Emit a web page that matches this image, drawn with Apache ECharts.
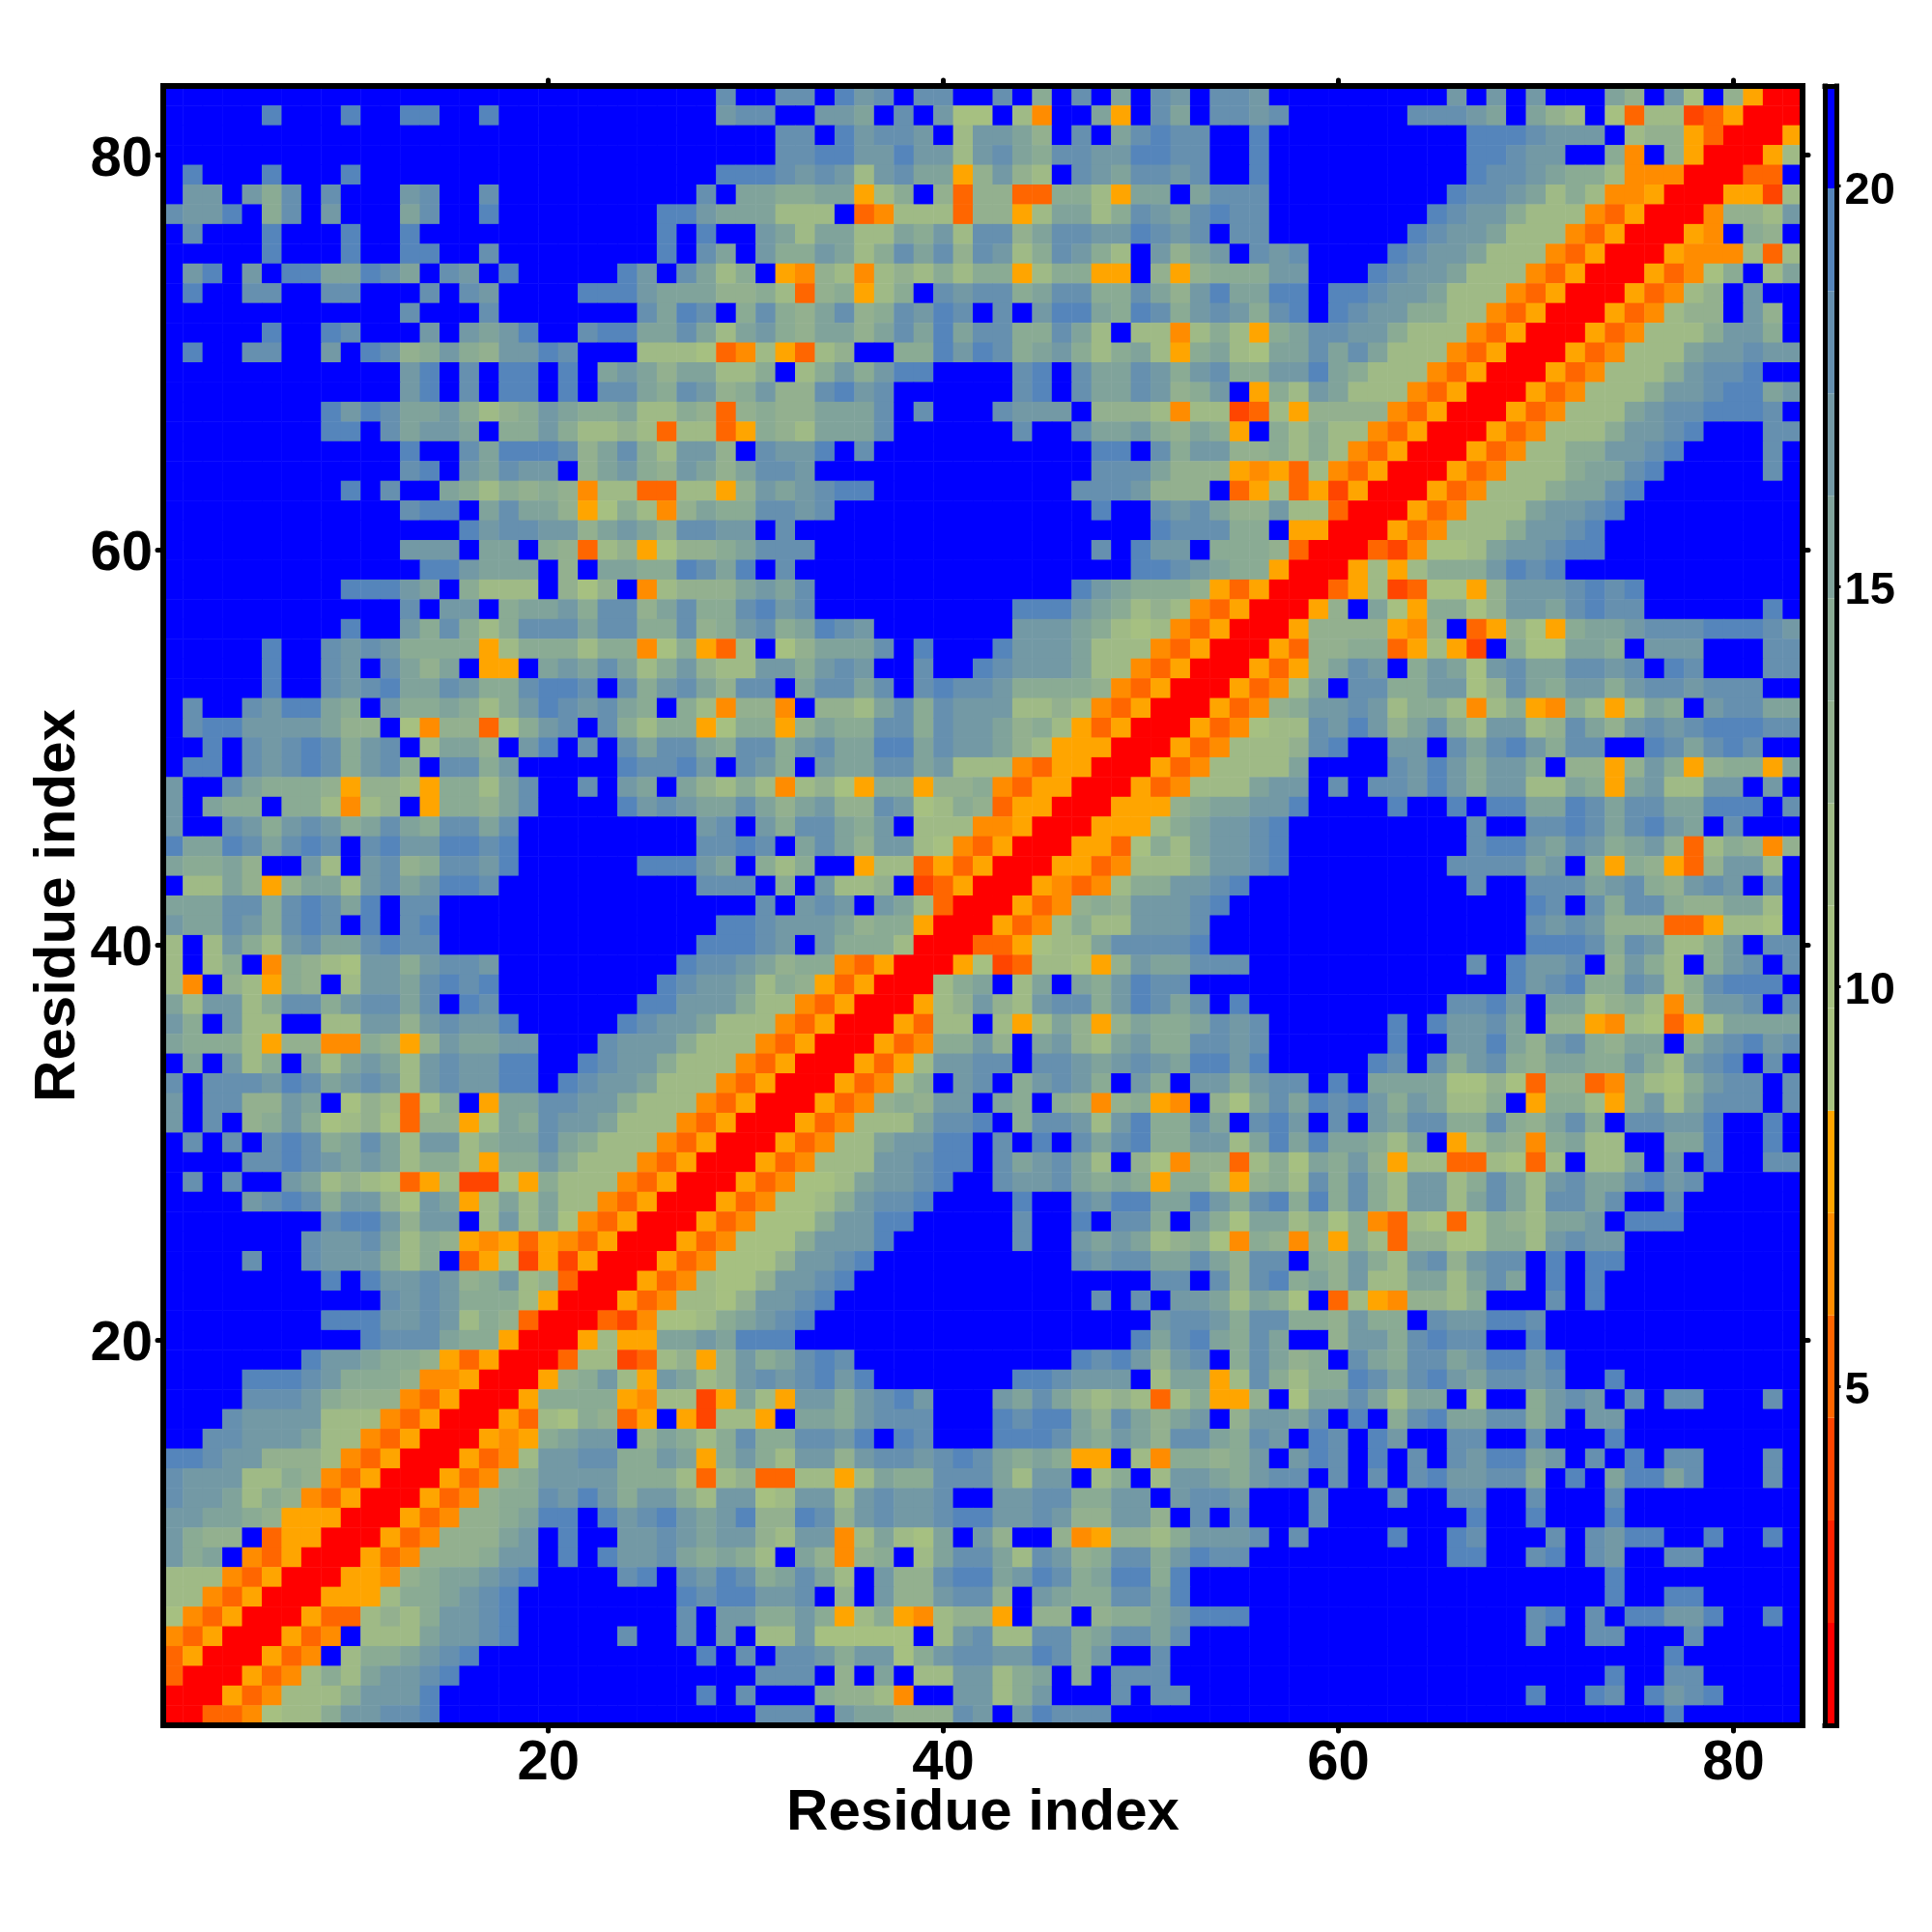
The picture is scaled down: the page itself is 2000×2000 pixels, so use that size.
<!DOCTYPE html>
<html><head><meta charset="utf-8">
<style>html,body{margin:0;padding:0;background:#fff}#c{width:2000px;height:2000px}</style>
<script src="https://cdn.jsdelivr.net/npm/echarts@6/dist/echarts.min.js"></script>
</head><body><div id="c"></div>
<script>
// Distance bins; a hex digit in the rows below is a bin number. {n} = n cells of the last bin.
const binEdges=[0.77,2.05,3.33,4.61,5.89,7.17,8.45,9.73,11.01,12.29,13.57,14.85,16.13,17.41,18.69,19.97,21.25];
const binValues=[1.4,2.7,4,5.2,6.5,7.8,9.1,10.4,11.6,12.9,14.2,15.5,16.8,18,19.3,20.6];
const binColors=['#ff0000','#ff2200','#ff4500','#ff6600','#ff8c00','#ffa500','#a8c280','#a6c081','#9fba86','#93b08f','#8aab94','#80a39b','#7399a5','#6690af','#5585bb','#0000ff'];
const colorbarTicks=[5,10,15,20];
const axisTickEvery=20;
const axisTitle='Residue index';
// rows run from residue 83 down to 1; each band is columns 1-28, 29-56, 57-83
const leftTop=["{28}","{5}e{3}e{2}ee{2}e{11}","{28}","{28}","fe{3}e{3}e{18}","fccfcadfdfffcdffd{10}d","dccefadfcfffbdffe{8}eec","fdfffefffeffe{12}efe","fffffefffeffeeffd{8}efd","fcefcfeebbedbfdcfe{5}ecfdb","feffddffddfffdfdc{4}eeecbbb","{12}d{3}d{7}dbed","fffffeffedfffcfcbceffdeebbdb","feffddffcfed9aca9ccedfff8887","{12}cefdfeefefbcb9bb","{12}cefdfeefefddbadc","{8}ecedbbca89acbaab88a9","{8}eefdbccbfaaca8898388","{12}effdbeeed9bda8cc","{12}defcbdccf9bca9cb","{9}efdffba8a9a94883388","{12}deefbdbb957a849b","{15}ecddcc9bcb9dd","{12}cccfbbfa93895799","{13}eecbbbf9fbbaaed","{9}eeecbfa888f979f4899","{12}dfccfabbcadd9bda","{9}effcada8adddbddaad9"];
const midTop=["dffddfecdfddffdfafdfbfdcfddc","cddffccbfdfc77f84ffb5fdbfddc","fffddfecddcf8ccb9fdfbdeddffe","fffddeeccecc8cdbaddcceeddffe","eeedcdc8cdbb59c98fdcbddcdffe","fbbaabb58af939933aa85bbfbddd","bbb888f3488839958bb8adcbdedd","ffcb8bb88bac8dd9bddccedcdfdd","bfcaacb8adbd9dc8adca8fc9bcfd","8af54984898a8aa58aa55f959aaa","99a839a58afdcddabddaadb9cebb","fada9bd9adcedfdfceebaedacdca","8bca9bb9bdbebddaadb8f8848a85","3485389ffaaecedabca8ab85ab87","88af8acaceeffffdefdbbdcacdaa","9ac99decdffffffdefdbbdc9acf5","39a99bbbdfdfffdcccf999848823","35a98bbbdffffffdffdbbca9ba5f","9fdccefd{11}eefdacc99","9bddc{14}dddb99954","59cbcdee{10}dddc999f35","aaddcd{13}effdcdb99","ccfd{18}edddaa","abddd{14}dfeccfaaa","befd{17}eedcbaa","9bcbd{13}ecbaaa9535","adecd{10}eeecba8984350","acdabedc{7}cccba87843500"];
const rightTop=["{9}cfcfc{3}b9fc7f9500","d{6}dddcbfb98f7388235000","{10}eeedcccf899530005","{10}eedccffa4f9500058","{10}eddcbaa844400033f","{9}eddcb8a84450005528","{8}edcca8884350004998c","{7}edccb88843500054fa9f","cdffffedccb8884350005444838","ccfffedccb8884350005347af8b","eefeedccb88843500053489fcff","defedccaa88435000534899fc9f","abddcca888435000534888accaf","bbdbdb888435000534888bccdcc","cceba888435000534888acddeff","a8cb888435000534888accdeebc","859999435000534888bcddeeedf","a8a88435000534888accdefffdd","a8a843500053488aaccde{4}df","538435000534888abbde{5}df","83525000534888abbde{8}","c883000534888bccde{9}","f55000534888accde{10}","93000324778bccdee{10}","50005858aaacede{12}","000358237759cccdede{8}","0059fb75aa79ccbdedd{6}ef","059999549f35975abbcdddeeedc"];
const leftMid=["fffffeffdcdcaaaa58aaa8aa47a5","fffffeffdcfdb9bf55fbcbdb8ac9","fffffeffdcdebbdcaadeedfdacdb","fdffdceebafcaaba8acedcdbafa8","fdeeccccb99f749937acdfda8aa5","ffefdcdedacdf8bb9fcefdfdbddb","feefdcdedacdafddacfffffeddec","cffdbaaa959985aa8bdffdfcbfb9","cfbaafaa8489f5aa9bdffffecdcb","cffdcacdcabdbaddbd{9}c","ebbedbdedfdecceede{9}d","baab9ffc8fcd9addce{6}eeec","f88b959bb8cdbceedf{9}d","bbbddadedbefdd{14}","cbbdcadedfefde{14}","8f8ca8cdbbdedd{13}e","8f8af4a987ccacddc{9}ed","84f985a9f8ccbdede{8}edc","b8cc8addacddbdfed{7}eecc","cafc88ff88cc9cdcce{5}edccb","baaa859944a959cbbccfffdccca8","fbfc8afb8bcb8cdccee{2}edcca88","dfdddcedbcdc8cdccee{1}edccb888","cfdd99cbf79837af5bbddcca8884","cfdf9aca789739957badccb88843","fdfdfdedabdb8cc8abbdba888435","ffffddedcbcb8aa85aaca8884350"];
const midMid=["38f79bbbdfefffecccb888435000","88ccacdcffdffedcccb884350005","9ddfbddbdfdeddcaaaa943500053","4994f998bdadccc8898435000534","7aa59baaddadccb9a85350005347","addacdbbeebdccb9855500053488","fdcafcbbddbc8884355000534888","8a848975aa599a4355000534888b","bdb9bc99dc78a93550005559abbc","dfcaddbacf8884450005558abccd","dedfbdb9cc874350005537a8bccd","bfa8aff58835350005534888accd","ddfafc889f23500054348aaccdef","ffdfcdcfcb830005349a9cccdeff","eedcccb9aa50005348a88cccdfff","eedcfcaaa8000335788bddddefff","dcb9aa435000572388759cbbdddf","cb8a95350008abf8bfbaceddffff","ca88435000589c98cddacedbdfef","8884350005388f858b959baabdcd","88435000534aac9fbc98bcaaddcd","84350005358ccddfddcbcdcbeece","4350005348afcdfacdcafcafccac","350005349a9ccfbafa949a54f97b","5000534888bddefaddc8ceaadbfd","00053488bcceefdfefdbdeaacc8b","00534888ccdeefdbcdb8f9749938"];
const rightMid=["5399aa35852fa77bbafcccfffdd","359bdcfacb7cdbbddcdfedfffdd","48bfddaacc79dbaccacddcdddff","9accdc8aa848a54a858bafcddbb","88dcec9bda8cc89db9cdcdeeedd","89deffccfdbdecaddffedbdedff","8bffffdcecaccaf9959ca59aa5b","ccfdfddcecacc88ba5bc88ccfcf","ceffffeffefeebbedbddbbeeefd","e{9}dffddedbdecbfdfff","e{9}deecbdcabc938a949","e{8}ddddbcfa5a9539cc8f","{10}dffdddbcda9cdcfd","{13}edfdadda99bb8f","{13}dcdc999335887f","{13}eeedadc88acfdd","{10}dfeccdf9ca8facdfd","{12}ecdeaadc8adeeef","{9}ddecfbb89a849ccdfd","{6}efeccdbf995487358bbbb","{6}effcceb9cda9bbfacdecd","{5}edfdacda9bbaaca8cdefdf","ddfefbbbb779739934a87acddfd","dbedecacb88af5aa85ac8bdddfd","ecfdfcbddaada9bdafddcceffef","ebebba8bf58a94ab88ffbbeffef","a7bac9588338738f88bfcfeffdd"];
const leftBot=["fdfdffcb89873582275a88843500","ffffcdedacc97cb58b8b88435000","{8}deec9ccf8c8b74350005","{7}dccdb8a95453543500053","ffffdffdccca8af3572525000534","{8}efeccdc9ac8930005348","{11}dcdcaaa8500053488","{8}eeeccdc8a93000324778","{10}edddbaa50005855bbc","{7}eccbaa953500038823895","ffffeeedcaaa944500059ac85cb8","ffffdddca9994350005aaaa54882","fffdcccc8884350005387a935f52","ffddcccb88435000545abccf9ba8","eedcc99984350005348ccddaacb5","dccc88a94350005349accccaaa83","dccb8a94350005349aadcecacca8","ccbba955500053499abeefecdecb","ca99f355000534999bcfeffccdcb","cabf435000534999accfefeccdba","8884350005549abbcdeffffdefdc","884350005558aabcde{8}ed","7435000533898accde{8}df","435000534f888bccde{5}dffdf","35000534f8aabcde{11}e","30005348a8bccde{13}","000534888accce{13}e","00334788accdde{14}"];
const midBot=["0534778bccdeffdccdbaba5aa859","534778acddeffffeffdceebbecad","34777accee{5}d{2}efddafca7b","4777accce{6}d{2}cbcb89a74a","7779ccde{10}dcddbbdb9d","779ccde{15}ddfd9d","79ccde{13}dfdfccb8b","abcde{17}cddcad","beee{17}ebdebad","9cabded{11}edec9cdfad","9cdcdece{7}eedcccf8bb58d","5b85ccacdecfffcbdb989838a559","885fbbacdddfffedeeb9db9bcf9c","adaaddcefedfffeeedbacb9ddbad","aca8cc9cddcdedbaba55f84aa9ac","89338858baadddb8ccf8af8ccbac","cc78cc8cdccdffccddaaccfcddcf","ce99ed9cdccdeeccdc99cc9fdfdf","cc98cc48b87bfc9ff945998acccd","ba8fb949af8bddb8dc9addaceddf","edabdb8fc99deebcedabeeaeffff","eeccdf9fc99cdd9fcbaaddbeffff","ccaaca58a548995f99f9aabceeef","cf88c77777f8cd88ddabddbdffff","fdfddcacc7acddccedacffdfffff","ffdddf9fbf88cc8abfafdddfffff","fdfffa9984ffcc8acfffdfddffff","ffdddfcbb999dcfcedddff{6}"];
const rightBot=["a8dada8cc8adb8cdbbdecd{5}","eaeada8cc8bdb8ddbdffdf{5}","b8a7a438737a98bbcfeeef{5}","9495a839977aa8cdcc{9}","dfa9ca8cd9cddfefee{9}","eab9c88bb8bdbfefe{10}","a7f3854998afffdfe{10}","daa9caafdcceed{13}","bff9ccadeddffe{13}","b9afdbaddbceece{12}","a8aaedbdecbddcdffe{9}","f7bbdb8bbf8ffacdcfdfddfffdf","cbdfefadebbddacfcc{9}","cfedfecffddffdfffe{9}","fcedfefdfdceebcfdfefddfffdf","ddfdfdfdeccddafefbeebdfffdf","ffdfffdffddffdfffd{9}","ffdfffffffeffefffe{9}","fdffffeffedfffdfdceeffeffef","{9}eeffdefdcffdd{5}","{17}e{9}","{17}effee{5}","{13}defdfeecceffef","{13}dffddfffd{5}","{20}e{6}","{17}effdd{5}","{13}effedfecde{4}","{20}e{6}"];

function expand(s,n){return s.replace(/\{(\d+)\}/g,(m,k)=>'f'.repeat(+k)).padEnd(n,'f').slice(0,n);}
function band(a,b,c){return a.map((s,i)=>expand(s,28)+expand(b[i],28)+expand(c[i],27));}
const rows=[].concat(band(leftTop,midTop,rightTop),band(leftMid,midMid,rightMid),band(leftBot,midBot,rightBot));
const residues=[];for(let i=1;i<=83;i++)residues.push(String(i));
const cells=[];
rows.forEach((r,ri)=>{for(let c=0;c<83;c++){cells.push([c,82-ri,binValues[parseInt(r[c],16)]]);}});
const pieces=binColors.map((color,i)=>({min:binEdges[i],max:binEdges[i+1],color}));
const barData=binColors.map((c,i)=>[binEdges[i],binEdges[i+1],i]);

const FONT='"Liberation Sans", Arial, sans-serif';
const frame={show:true,onZero:false,lineStyle:{color:'#000',width:6,cap:'square'}};
const barFrame={show:true,onZero:false,lineStyle:{color:'#000',width:5,cap:'square'}};
const every=(i,v)=>(+v)%axisTickEvery===0;
const tick={show:true,alignWithLabel:true,interval:every,length:6,lineStyle:{color:'#000',width:5,cap:'round'}};
const lab={show:true,interval:every,color:'#000',fontFamily:FONT,fontWeight:'bold',fontSize:58};
const nameSt={color:'#000',fontFamily:FONT,fontWeight:'bold',fontSize:60};
const chart=echarts.init(document.getElementById('c'),null,{renderer:'canvas',width:2000,height:2000});
chart.setOption({
 animation:false,backgroundColor:'#fff',
 grid:[{left:169,top:89,width:1697,height:1697,outerBoundsMode:'none'},{left:1889,top:89,width:12.5,height:1697,outerBoundsMode:'none'}],
 xAxis:[
  {type:'category',gridIndex:0,zlevel:1,data:residues,position:'bottom',axisLine:frame,axisTick:tick,axisLabel:{...lab,margin:11},splitLine:{show:false},name:axisTitle,nameLocation:'middle',nameGap:61,nameMoveOverlap:false,nameTextStyle:nameSt},
  {type:'category',gridIndex:0,zlevel:1,data:residues,position:'top',axisLine:frame,axisTick:tick,axisLabel:{show:false},splitLine:{show:false}},
  {type:'value',gridIndex:1,zlevel:1,min:0,max:1,position:'bottom',axisLine:barFrame,axisTick:{show:false},axisLabel:{show:false},splitLine:{show:false}},
  {type:'value',gridIndex:1,zlevel:1,min:0,max:1,position:'top',axisLine:barFrame,axisTick:{show:false},axisLabel:{show:false},splitLine:{show:false}}
 ],
 yAxis:[
  {type:'category',gridIndex:0,zlevel:1,data:residues,position:'left',axisLine:frame,axisTick:tick,axisLabel:{...lab,margin:11,formatter:v=>'{a|'+v+'}',rich:{a:{color:'#000',fontFamily:FONT,fontWeight:'bold',fontSize:58,padding:[10,0,0,0]}}},splitLine:{show:false},name:axisTitle,nameLocation:'middle',nameGap:79,nameMoveOverlap:false,nameTextStyle:nameSt},
  {type:'category',gridIndex:0,zlevel:1,data:residues,position:'right',axisLine:frame,axisTick:tick,axisLabel:{show:false},splitLine:{show:false}},
  {type:'value',gridIndex:1,zlevel:1,min:binEdges[0],max:binEdges[16],position:'left',axisLine:barFrame,axisTick:{show:false},axisLabel:{show:false},splitLine:{show:false}},
  {type:'value',gridIndex:1,zlevel:1,min:binEdges[0],max:binEdges[16],position:'right',axisLine:barFrame,axisTick:{show:true,customValues:colorbarTicks,length:4,lineStyle:{color:'#000',width:3}},axisLabel:{show:true,customValues:colorbarTicks,margin:8,align:'left',formatter:v=>'{a|'+v+'}',rich:{a:{color:'#000',fontFamily:FONT,fontWeight:'bold',fontSize:47,padding:[10,0,0,0]}}},splitLine:{show:false}}
 ],
 visualMap:{show:false,type:'piecewise',seriesIndex:0,dimension:2,pieces},
 series:[
  {type:'heatmap',xAxisIndex:0,yAxisIndex:0,data:cells,progressive:0,itemStyle:{borderWidth:0},emphasis:{disabled:true}},
  {type:'custom',xAxisIndex:2,yAxisIndex:3,data:barData,silent:true,renderItem:(p,api)=>{
    const a=api.coord([0,api.value(0)]),b=api.coord([1,api.value(1)]);
    return {type:'rect',shape:{x:a[0],y:b[1],width:b[0]-a[0],height:a[1]-b[1]},style:{fill:binColors[api.value(2)]}};
  }}
 ]
});
</script></body></html>
